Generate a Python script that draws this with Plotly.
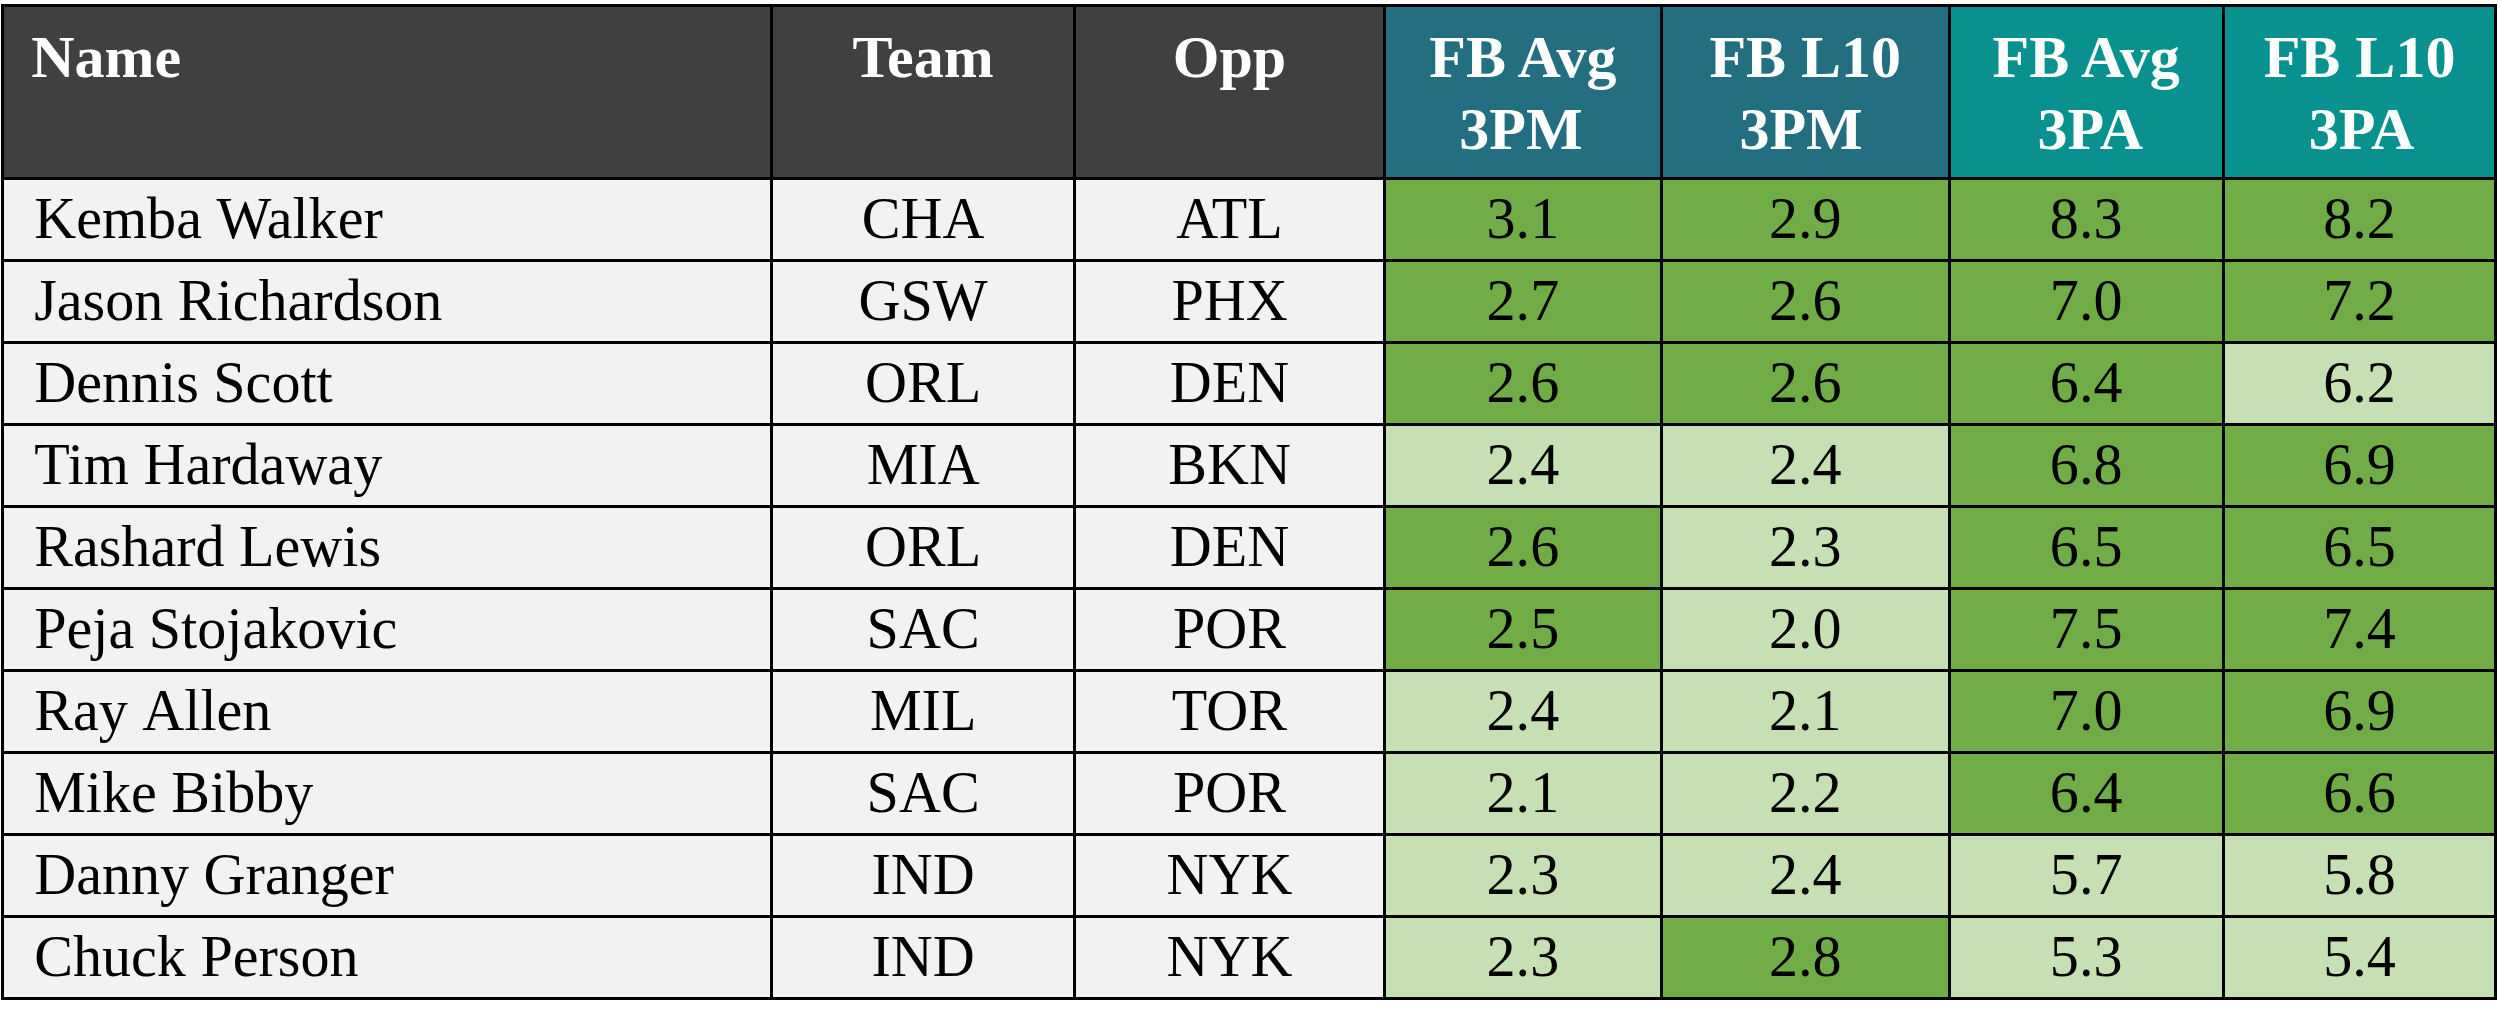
import plotly.graph_objects as go

names = ["Kemba Walker", "Jason Richardson", "Dennis Scott", "Tim Hardaway",
         "Rashard Lewis", "Peja Stojakovic", "Ray Allen", "Mike Bibby",
         "Danny Granger", "Chuck Person"]
teams = ["CHA", "GSW", "ORL", "MIA", "ORL", "SAC", "MIL", "SAC", "IND", "IND"]
opps = ["ATL", "PHX", "DEN", "BKN", "DEN", "POR", "TOR", "POR", "NYK", "NYK"]
fb_avg_3pm = [3.1, 2.7, 2.6, 2.4, 2.6, 2.5, 2.4, 2.1, 2.3, 2.3]
fb_l10_3pm = [2.9, 2.6, 2.6, 2.4, 2.3, 2.0, 2.1, 2.2, 2.4, 2.8]
fb_avg_3pa = [8.3, 7.0, 6.4, 6.8, 6.5, 7.5, 7.0, 6.4, 5.7, 5.3]
fb_l10_3pa = [8.2, 7.2, 6.2, 6.9, 6.5, 7.4, 6.9, 6.6, 5.8, 5.4]

header_top = ["Name", "Team", "Opp", "FB Avg", "FB L10", "FB Avg", "FB L10"]
header_bottom = ["", "", "", "3PM", "3PM", "3PA", "3PA"]
# highlight cutoffs for the conditional colouring (value >= cutoff -> dark green)
cutoffs = [2.5, 2.5, 6.4, 6.4]

DARK = "#404040"
BLUE = "#236F81"
TEAL = "#08918F"
GREEN = "#70AD47"
LIGHT = "#C6E0B4"
GREY = "#F2F2F2"

HEAD_BASE = 56   # sets the line spacing of the two-line headers
HEAD_SIZE = 60
BODY_SIZE = 58
LIFT = 45
NB = "\u00a0"

# plotly tables pin the text box to the top of the cell; a raised blank
# (<sup>) makes that box taller so the header glyphs sit lower
head_lift = f"<sup><span style='font-size:{LIFT}px'>{NB}</span></sup>"


def head_line(txt, pad=""):
    return (head_lift + f"<span style='font-size:{HEAD_SIZE}px'><b>{pad}{txt}</b></span>"
            + head_lift)


def head(top, bottom):
    if not bottom:
        return head_line(top) + "<br>"
    pad = NB * (2 if bottom.endswith("M") else 3)
    return head_line(top) + "<br>" + head_line(bottom, pad)


def body(txt, left=False):
    # <sub> at 70% of the cell font -> glyphs at BODY_SIZE
    txt = txt.replace(" ", NB)
    if left:
        txt = NB + "\u2006" + txt
    return f"<sub>{txt}</sub>"


stat_cols = [fb_avg_3pm, fb_l10_3pm, fb_avg_3pa, fb_l10_3pa]
fills = [[GREY] * len(names)] * 3
for col, cut in zip(stat_cols, cutoffs):
    fills.append([GREEN if v >= cut else LIGHT for v in col])

cell_vals = [[body(n, left=True) for n in names],
             [body(t) for t in teams],
             [body(o) for o in opps]]
for col in stat_cols:
    cell_vals.append([body(f"{v:.1f}") for v in col])

head_vals = [head(t, b) for t, b in zip(header_top, header_bottom)]
head_vals[0] = head_line("Name", "\u2006") + "<br>"

aligns = ["left", "center", "center", "center", "center", "center", "center"]

table = go.Table(
    columnwidth=[770, 303, 310, 277, 288, 274, 273],
    header=dict(
        values=head_vals,
        fill_color=[DARK, DARK, DARK, BLUE, BLUE, TEAL, TEAL],
        line=dict(color="black", width=3),
        align=aligns,
        font=dict(family="Liberation Serif", size=HEAD_BASE, color="white"),
        height=173,
    ),
    cells=dict(
        values=cell_vals,
        fill_color=fills,
        line=dict(color="black", width=3),
        align=aligns,
        font=dict(family="Liberation Serif", size=round(BODY_SIZE / 0.7), color="black"),
        height=82,
    ),
)

fig = go.Figure(table)
fig.update_layout(
    width=2500, height=1030,
    margin=dict(l=2, r=4, t=5, b=0),
    paper_bgcolor="white",
)
fig.write_html("out.html", config={"displayModeBar": False},
               post_script="document.body.style.margin='0';")
